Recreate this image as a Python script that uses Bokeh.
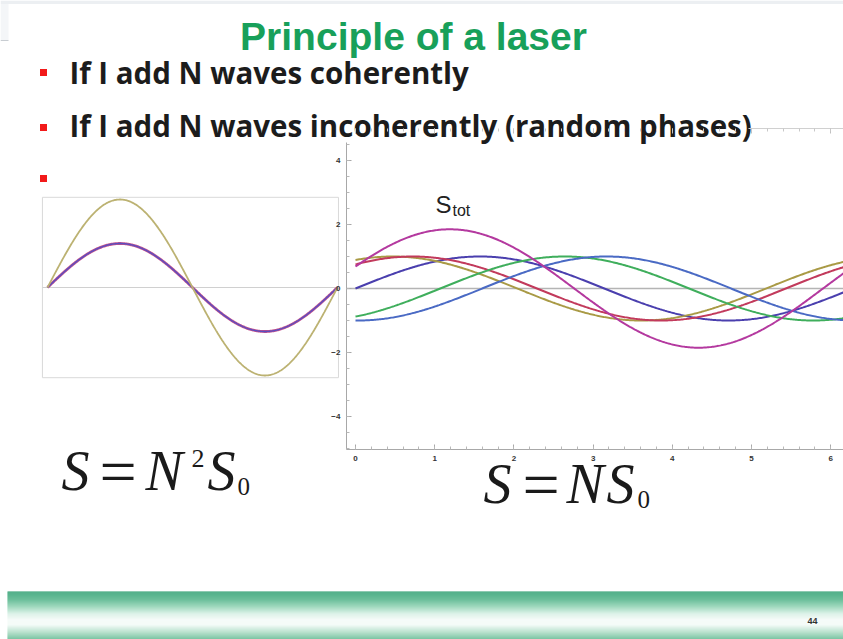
import numpy as np
from bokeh.plotting import figure
from bokeh.models import Range1d, LinearAxis, FixedTicker
from bokeh.core.properties import value
from bokeh.embed import file_html
from bokeh.resources import INLINE

# ---- slide text -------------------------------------------------------------
TITLE = "Principle of a laser"
BULLETS = ["If I add N waves coherently",
           "If I add N waves incoherently (random phases)",
           ""]
PAGE_NUMBER = "44"

# ---- coherent panel: two identical waves in phase and their sum -------------
COH_LABELS = ["wave 1", "wave 2", "sum"]
COH_AMPS = [1.0, 1.0, 2.0]
COH_PHASES = [0.0, 0.0, 0.0]
COH_COLORS = ["#c4508a", "#5a4ec0", "#bcb272"]
COH_WIDTHS = [2.8, 1.4, 1.8]

# ---- incoherent panel: five unit waves with random phases and their total ---
INC_LABELS = ["w1", "w2", "w3", "w4", "w5"]
INC_AMPS = [1.0, 1.0, 1.0, 1.0, 1.0]
INC_PHASES = [0.0, 1.10, 0.85, -1.07, -1.60]
INC_COLORS = ["#4a3fae", "#a99a45", "#c23a5c", "#3fae5c", "#4a6ac4"]
TOT_AMP = 1.85
TOT_PHASE = 0.38
TOT_COLOR = "#b4399f"

X_TICKS = [0, 1, 2, 3, 4, 5, 6]
Y_TICKS = [-4, -2, 0, 2, 4]

W, H = 843, 639
# the text glyph sits about a third of an em low; baselines are lifted by this
RAISE = 0.34

p = figure(width=W, height=H, x_range=Range1d(0, W), y_range=Range1d(H, 0),
           x_axis_location=None, y_axis_location=None,
           toolbar_location=None, output_backend="svg", min_border=0,
           outline_line_color=None, background_fill_color="white",
           border_fill_color="white")
p.grid.visible = False

# panel placement on the slide: pixel origin and pixels per unit
R_OX, R_OY, R_SX, R_SY = 355.0, 288.0, 79.2, 32.0
L_OX, L_OY, L_SX, L_SY = 47.0, 287.0, 46.15, 44.0
p.extra_x_ranges["rx"] = Range1d(-R_OX / R_SX, (W - R_OX) / R_SX)
p.extra_y_ranges["ry"] = Range1d((R_OY - H) / R_SY, R_OY / R_SY)
p.extra_x_ranges["lx"] = Range1d(-L_OX / L_SX, (W - L_OX) / L_SX)
p.extra_y_ranges["ly"] = Range1d((L_OY - H) / L_SY, L_OY / L_SY)
R = dict(x_range_name="rx", y_range_name="ry")
L = dict(x_range_name="lx", y_range_name="ly")


def label(txt, x, base, size, font="Liberation Sans", style="normal",
          color="#1c1c1c", align="left"):
    p.text(x=[x], y=[base - RAISE * size], text=[txt], text_font=value(font),
           text_font_size=f"{size}px", text_font_style=style, text_color=color,
           text_align=align, text_baseline="alphabetic")


# ---- slide chrome ---------------------------------------------------------------
p.quad(left=0, right=W, top=0, bottom=3.5, fill_color="#eceff2", line_color=None)
p.quad(left=0, right=8, top=3.5, bottom=40, fill_color="#f4f6f8", line_color=None)
p.segment(x0=0, y0=40, x1=8, y1=40, line_color="#c8cdd2", line_width=1)

# footer bar: vertical green-white-green shading
stops_y = [591, 594, 599, 606, 613, 619, 624, 631, 639]
stops_rgb = np.array([(28, 150, 100), (34, 156, 106), (60, 170, 122),
                      (130, 205, 170), (210, 238, 225), (243, 250, 247),
                      (240, 249, 245), (165, 218, 192), (70, 172, 126)], dtype=float)
rows = np.arange(591, 639)
cols = ["#%02x%02x%02x" % tuple(int(round(np.interp(r, stops_y, stops_rgb[:, k])))
                                 for k in range(3)) for r in rows]
p.quad(left=7, right=W, top=rows, bottom=rows + 1, fill_color=cols, line_color=None)
p.text(x=[812], y=[620], text=[PAGE_NUMBER], text_font=value("Liberation Sans"),
       text_font_size="9px", text_font_style="bold", text_color="#333333",
       text_align="center", text_baseline="middle")

# ---- title and bullets ------------------------------------------------------------
label(TITLE, 413, 49, 39, style="bold", color="#18a05a", align="center")
p.scatter(x=[43, 43, 43], y=[72, 127, 178], marker="square", size=7,
          fill_color="#f21a1a", line_color=None)
label(BULLETS[0], 69, 82, 29.5, font="Open Sans", style="bold", color="#1c1c1c")
label(BULLETS[1], 69, 135, 29.5, font="Open Sans", style="bold", color="#1c1c1c")

# ---- coherent panel -------------------------------------------------------------
xs = np.linspace(0, 2 * np.pi, 400)
p.quad(left=-0.11, right=6.305, bottom=-2.05, top=2.05, fill_color=None,
       line_color="#d9d9d9", line_width=1, **L)
p.segment(x0=-0.11, y0=0, x1=6.305, y1=0, line_color="#d0d0d0", line_width=1, **L)
for a, ph, c, w in zip(COH_AMPS, COH_PHASES, COH_COLORS, COH_WIDTHS):
    p.line(xs, a * np.sin(xs + ph), line_color=c, line_width=w, **L)

# ---- incoherent panel -------------------------------------------------------------
p.segment(x0=-0.114, y0=0, x1=6.5, y1=0, line_color="#b4b4b4", line_width=1.5, **R)
for a, ph, c in zip(INC_AMPS, INC_PHASES, INC_COLORS):
    p.line(xs, a * np.sin(xs + ph), line_color=c, line_width=2, **R)
p.line(xs, TOT_AMP * np.sin(xs + TOT_PHASE), line_color=TOT_COLOR, line_width=2, **R)

label("S", 435, 212, 24, color="#222222")
label("tot", 452, 215, 16, color="#222222")

axis_style = dict(axis_line_color="#a8a8a8", major_tick_line_color="#a8a8a8",
                  minor_tick_line_color="#b8b8b8", major_tick_in=5, major_tick_out=0,
                  minor_tick_in=3, minor_tick_out=0,
                  major_label_text_font="Liberation Sans",
                  major_label_text_font_style="bold",
                  major_label_text_font_size="8px", major_label_text_color="#333333")

yax = LinearAxis(fixed_location=-0.114, bounds=(-5.03, 4.55),
                 ticker=FixedTicker(ticks=Y_TICKS,
                                    minor_ticks=[float(v) for v in np.arange(-5.0, 4.6, 0.5)]),
                 major_label_standoff=6, **axis_style, **R)
p.add_layout(yax, "left")
xax = LinearAxis(fixed_location=-5.03, bounds=(-0.114, 6.5),
                 ticker=FixedTicker(ticks=X_TICKS,
                                    minor_ticks=[float(v) for v in np.arange(0, 6.5, 0.2)]),
                 major_label_standoff=7, **axis_style, **R)
p.add_layout(xax, "below")
top_style = dict(axis_style)
top_style["major_label_text_color"] = None
top_style["axis_line_color"] = "#d0d0d0"
top_style["major_tick_line_color"] = "#c0c0c0"
top_style["minor_tick_line_color"] = "#c8c8c8"
tax = LinearAxis(fixed_location=5.0, bounds=(4.96, 6.5),
                 ticker=FixedTicker(ticks=X_TICKS,
                                    minor_ticks=[float(v) for v in np.arange(0, 6.5, 0.2)]),
                 **top_style, **R)
p.add_layout(tax, "above")

# ---- formulas ---------------------------------------------------------------------
def formula(pieces):
    for txt, x, base, size, style in pieces:
        label(txt, x, base, size, font="Liberation Serif", style=style, color="#1a1a1a")

formula([("S", 61, 490, 56, "italic"), ("=", 99, 493, 66, "normal"),
         ("N", 145, 490, 56, "italic"), ("2", 191, 467, 26, "normal"),
         ("S", 207, 490, 56, "italic"), ("0", 237, 494, 25, "normal")])
formula([("S", 483, 503, 56, "italic"), ("=", 522, 506, 66, "normal"),
         ("N", 566, 503, 56, "italic"), ("S", 606, 503, 56, "italic"),
         ("0", 637, 507, 25, "normal")])

open("out.html", "w").write(file_html(p, INLINE))
